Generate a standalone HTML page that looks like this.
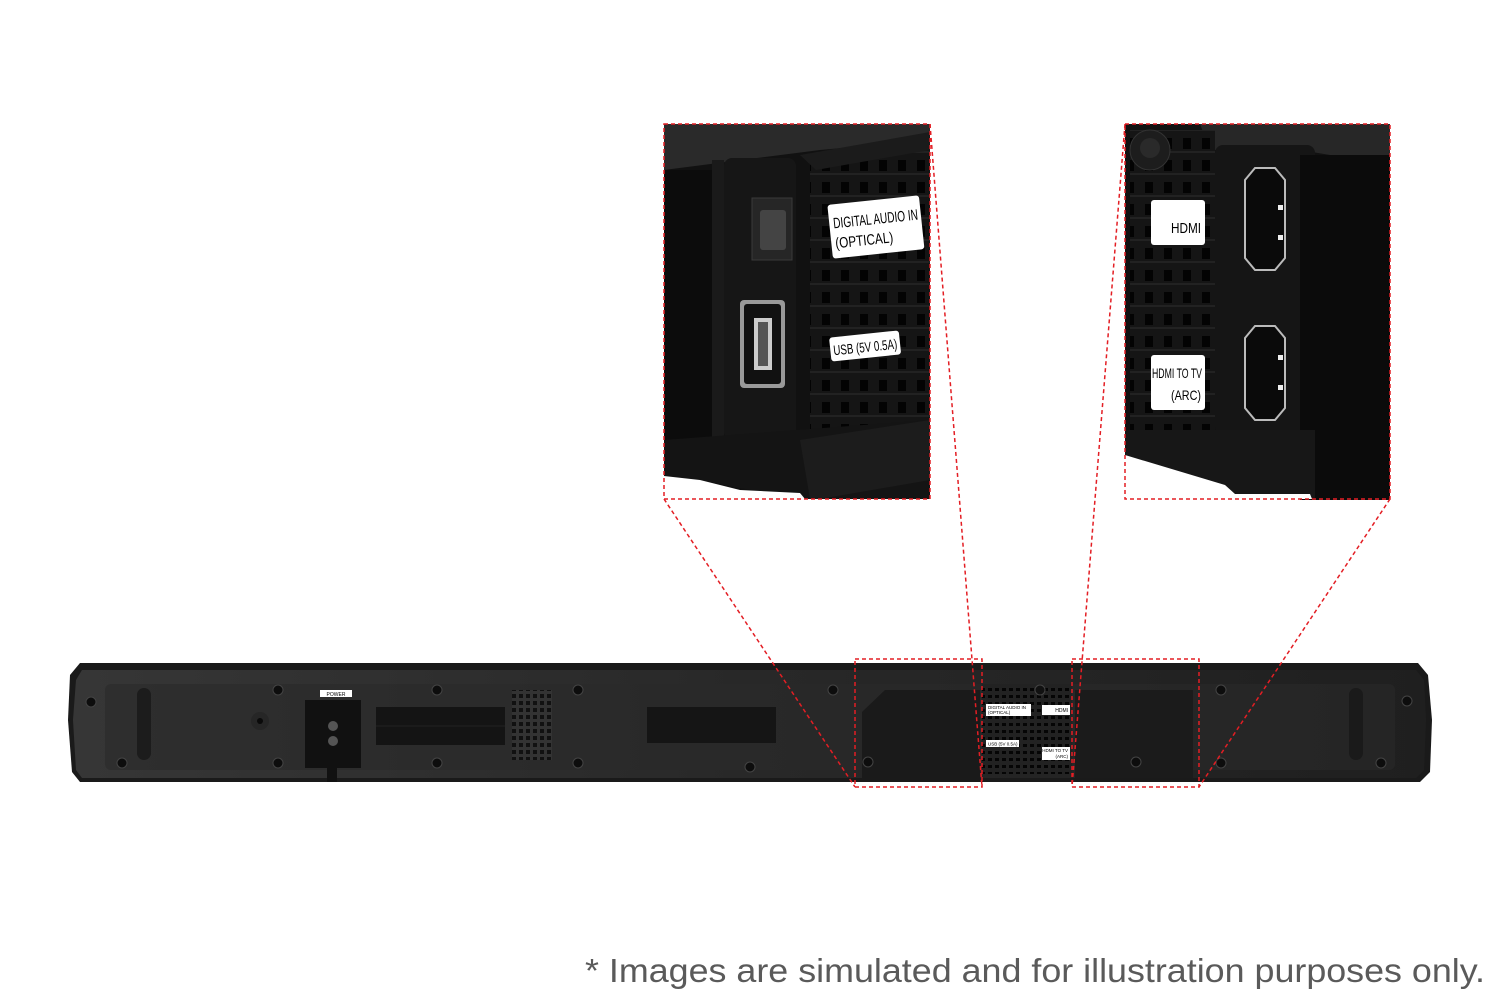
<!DOCTYPE html>
<html><head><meta charset="utf-8"><style>
html,body{margin:0;padding:0;background:#fff;}
svg{display:block;}
text{font-family:"Liberation Sans",sans-serif;}
</style></head><body>
<svg width="1500" height="1000" viewBox="0 0 1500 1000" xmlns="http://www.w3.org/2000/svg">
<defs>
<linearGradient id="bar" x1="0" x2="1" y1="0" y2="0">
<stop offset="0" stop-color="#363636"/><stop offset="0.5" stop-color="#282828"/><stop offset="1" stop-color="#1f1f1f"/>
</linearGradient>
<pattern id="vent" x="0" y="0" width="19" height="22" patternUnits="userSpaceOnUse">
<rect width="19" height="22" fill="#151515"/><rect x="5" y="6" width="8" height="11" fill="#030303"/><rect x="0" y="19" width="19" height="2" fill="#222"/>
</pattern>
<pattern id="svent" x="0" y="0" width="7" height="7" patternUnits="userSpaceOnUse">
<rect width="7" height="7" fill="#222"/><rect x="1" y="2" width="4" height="3" fill="#050505"/>
</pattern>
<pattern id="grille" x="0" y="0" width="7" height="7" patternUnits="userSpaceOnUse">
<rect width="7" height="7" fill="#333"/><rect x="1" y="1" width="4" height="4" fill="#111"/>
</pattern>
</defs>

<!-- LEFT INSET -->
<rect x="664" y="124" width="266" height="375" fill="#111"/>
<polygon points="664,124 930,124 930,140 820,150 664,170" fill="#2a2a2a"/>
<rect x="664" y="170" width="50" height="310" fill="#0c0c0c"/>
<rect x="712" y="160" width="12" height="320" fill="#1a1a1a"/>
<rect x="724" y="158" width="72" height="282" rx="8" fill="#161616"/>
<rect x="752" y="198" width="40" height="62" fill="#262626" stroke="#3a3a3a"/>
<rect x="760" y="210" width="26" height="40" rx="3" fill="#444"/>
<rect x="740" y="300" width="45" height="88" rx="4" fill="#999"/>
<rect x="744" y="304" width="37" height="80" rx="3" fill="#111"/>
<rect x="754" y="318" width="18" height="52" fill="#ccc"/>
<rect x="758" y="322" width="10" height="44" fill="#555"/>
<polygon points="810,160 930,135 930,440 810,440" fill="url(#vent)"/>
<polygon points="800,155 930,132 930,150 816,170" fill="#1b1b1b"/>
<polygon points="664,440 930,420 930,499 800,499 740,488 700,480 664,476" fill="#141414"/>
<polygon points="800,440 930,420 930,480 820,499 810,499" fill="#1c1c1c"/>
<polygon points="664,476 700,480 740,490 800,493 805,499 664,499" fill="#fff"/>
<g transform="rotate(-6 876 228)">
<rect x="830" y="200" width="92" height="54" rx="3" fill="#fff"/>
<text x="834" y="224" font-size="15" fill="#000" textLength="85" lengthAdjust="spacingAndGlyphs">DIGITAL AUDIO IN</text>
<text x="834" y="244" font-size="15" fill="#000" textLength="58" lengthAdjust="spacingAndGlyphs">(OPTICAL)</text>
</g>
<g transform="rotate(-6 865 345)">
<rect x="830" y="334" width="70" height="24" rx="3" fill="#fff"/>
<text x="833" y="352" font-size="14" fill="#000" textLength="64" lengthAdjust="spacingAndGlyphs">USB (5V 0.5A)</text>
</g>
<rect x="664" y="124" width="266" height="375" fill="none" stroke="#e31e24" stroke-width="1.5" stroke-dasharray="4,3"/>

<!-- RIGHT INSET -->
<rect x="1125" y="124" width="265" height="375" fill="#111"/>
<polygon points="1200,124 1390,124 1390,165 1300,150 1210,150" fill="#272727"/>
<polygon points="1130,130 1215,130 1215,430 1130,430" fill="url(#vent)"/>
<circle cx="1150" cy="150" r="20" fill="#1d1d1d" stroke="#333"/>
<circle cx="1150" cy="148" r="10" fill="#2a2a2a"/>
<rect x="1215" y="145" width="100" height="290" rx="8" fill="#151515"/>
<rect x="1300" y="155" width="90" height="345" fill="#0b0b0b"/>
<polygon points="1245,180 1255,168 1275,168 1285,180 1285,258 1275,270 1255,270 1245,258" fill="#0a0a0a" stroke="#bbb" stroke-width="2"/>
<rect x="1278" y="205" width="5" height="5" fill="#eee"/><rect x="1278" y="235" width="5" height="5" fill="#eee"/>
<polygon points="1245,338 1255,326 1275,326 1285,338 1285,408 1275,420 1255,420 1245,408" fill="#0a0a0a" stroke="#bbb" stroke-width="2"/>
<rect x="1278" y="355" width="5" height="5" fill="#eee"/><rect x="1278" y="385" width="5" height="5" fill="#eee"/>
<polygon points="1125,430 1315,430 1315,499 1235,499 1225,485 1125,455" fill="#171717"/>
<polygon points="1125,455 1225,485 1235,494 1310,494 1312,499 1125,499" fill="#fff"/>
<rect x="1151" y="200" width="54" height="45" rx="3" fill="#fff"/>
<text x="1201" y="233" font-size="15" fill="#000" text-anchor="end" textLength="30" lengthAdjust="spacingAndGlyphs">HDMI</text>
<rect x="1151" y="355" width="54" height="55" rx="3" fill="#fff"/>
<text x="1202" y="378" font-size="14" fill="#000" text-anchor="end" textLength="50" lengthAdjust="spacingAndGlyphs">HDMI TO TV</text>
<text x="1201" y="400" font-size="14" fill="#000" text-anchor="end" textLength="30" lengthAdjust="spacingAndGlyphs">(ARC)</text>
<rect x="1125" y="124" width="265" height="375" fill="none" stroke="#e31e24" stroke-width="1.5" stroke-dasharray="4,3"/>

<!-- SOUNDBAR -->
<polygon points="80,663 1418,663 1428,675 1432,720 1430,772 1420,782 80,782 72,772 68,720 70,675" fill="#1a1a1a"/>
<polygon points="82,670 1416,670 1424,680 1426,720 1424,770 1416,778 82,778 76,770 73,720 76,680" fill="url(#bar)"/>
<rect x="105" y="684" width="1290" height="86" rx="6" fill="#2a2a2a" opacity="0.6"/>
<rect x="137" y="688" width="14" height="72" rx="7" fill="#1c1c1c"/>
<rect x="1349" y="688" width="14" height="72" rx="7" fill="#1a1a1a"/>
<circle cx="260" cy="721" r="9" fill="#262626"/><circle cx="260" cy="721" r="3" fill="#0a0a0a"/>
<rect x="305" y="700" width="56" height="68" fill="#111"/>
<rect x="320" y="690" width="32" height="7" fill="#fff"/>
<text x="336" y="696" font-size="5" text-anchor="middle" fill="#000">POWER</text>
<circle cx="333" cy="726" r="5" fill="#555"/><circle cx="333" cy="741" r="5" fill="#555"/>
<rect x="327" y="768" width="10" height="14" fill="#111"/>
<rect x="376" y="707" width="129" height="38" fill="#141414"/>
<line x1="376" y1="726" x2="505" y2="726" stroke="#222"/>
<rect x="512" y="690" width="40" height="70" fill="url(#grille)"/>
<rect x="647" y="707" width="129" height="36" fill="#151515"/>
<polygon points="885,690 980,690 980,778 862,778 862,712" fill="#1a1a1a"/>
<rect x="982" y="684" width="90" height="90" fill="url(#svent)"/>
<circle cx="1040" cy="690" r="5" fill="#111" stroke="#444"/>
<rect x="986" y="704" width="45" height="12" fill="#fff"/>
<text x="988" y="709" font-size="4.5" fill="#000">DIGITAL AUDIO IN</text>
<text x="988" y="714" font-size="4.5" fill="#000">(OPTICAL)</text>
<rect x="1042" y="705" width="28" height="10" fill="#fff"/>
<text x="1068" y="712" font-size="5" text-anchor="end" fill="#000">HDMI</text>
<rect x="986" y="740" width="33" height="7" fill="#fff"/>
<text x="988" y="745.5" font-size="4.5" fill="#000">USB (5V 0.5A)</text>
<rect x="1042" y="747" width="28" height="13" fill="#fff"/>
<text x="1068" y="752" font-size="4.5" text-anchor="end" fill="#000">HDMI TO TV</text>
<text x="1068" y="758" font-size="4.5" text-anchor="end" fill="#000">(ARC)</text>
<rect x="1075" y="690" width="118" height="88" fill="#1b1b1b"/>
<g fill="#0d0d0d" stroke="#444" stroke-width="1">
<circle cx="91" cy="702" r="5"/><circle cx="122" cy="763" r="5"/>
<circle cx="278" cy="690" r="5"/><circle cx="278" cy="763" r="5"/>
<circle cx="437" cy="690" r="5"/><circle cx="437" cy="763" r="5"/>
<circle cx="578" cy="690" r="5"/><circle cx="578" cy="763" r="5"/>
<circle cx="833" cy="690" r="5"/><circle cx="750" cy="767" r="5"/>
<circle cx="868" cy="762" r="5"/><circle cx="1136" cy="762" r="5"/>
<circle cx="1221" cy="690" r="5"/><circle cx="1221" cy="763" r="5"/>
<circle cx="1407" cy="701" r="5"/><circle cx="1381" cy="763" r="5"/>
</g>
<rect x="855" y="659" width="127" height="128" fill="none" stroke="#e31e24" stroke-width="1.5" stroke-dasharray="4,3"/>
<rect x="1072" y="659" width="127" height="128" fill="none" stroke="#e31e24" stroke-width="1.5" stroke-dasharray="4,3"/>

<g stroke="#e31e24" stroke-width="1.5" stroke-dasharray="4,3" fill="none">
<line x1="664" y1="499" x2="855" y2="787"/>
<line x1="930" y1="124" x2="982" y2="787"/>
<line x1="1125" y1="124" x2="1072" y2="787"/>
<line x1="1390" y1="499" x2="1199" y2="787"/>
</g>

<text x="585" y="982" font-size="33" fill="#5a5a5a" textLength="900" lengthAdjust="spacingAndGlyphs">* Images are simulated and for illustration purposes only.</text>
</svg>
</body></html>
